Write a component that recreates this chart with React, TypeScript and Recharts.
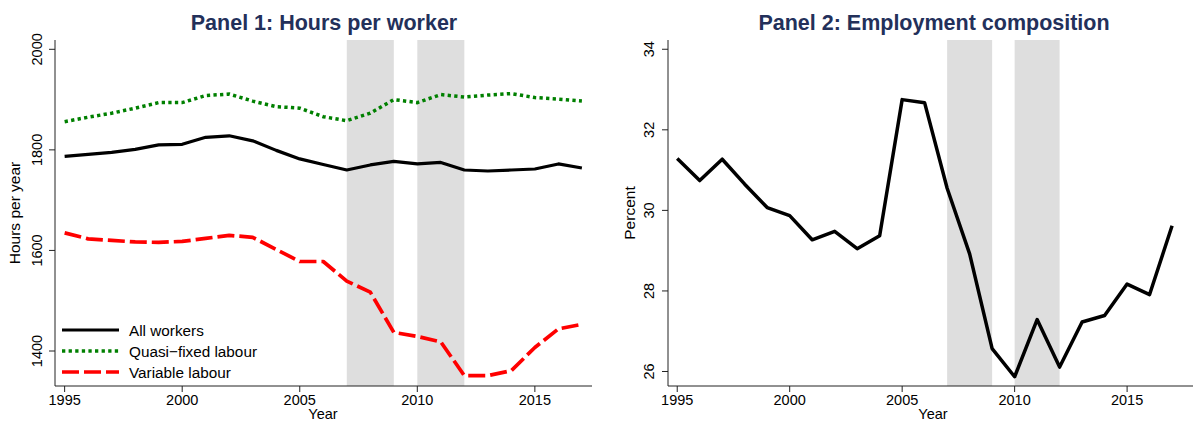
import React from 'react';
import { LineChart, Line, XAxis, YAxis, ReferenceArea, Legend } from 'recharts';

const FONT = '"Liberation Sans", Arial, Helvetica, sans-serif';
const TITLE_COLOR = '#23305a';

const years = [1995, 1996, 1997, 1998, 1999, 2000, 2001, 2002, 2003, 2004, 2005, 2006, 2007, 2008, 2009, 2010, 2011, 2012, 2013, 2014, 2015, 2016, 2017];

// Panel 1: hours per worker
const allWorkers = [1787, 1791, 1795, 1801, 1810, 1811, 1825, 1828, 1818, 1799, 1782, 1771, 1760, 1770, 1777, 1772, 1775, 1760, 1758, 1760, 1762, 1772, 1764];
const quasiFixed = [1856, 1865, 1873, 1883, 1894, 1894, 1908, 1911, 1897, 1886, 1883, 1866, 1858, 1873, 1900, 1894, 1910, 1905, 1909, 1912, 1904, 1901, 1897];
const variableLabour = [1635, 1623, 1620, 1617, 1616, 1618, 1624, 1630, 1626, 1602, 1578, 1578, 1539, 1517, 1437, 1429, 1418, 1351, 1351, 1361, 1407, 1444, 1453];

// Panel 2: employment composition (percent)
const employmentShare = [31.29, 30.74, 31.27, 30.65, 30.07, 29.87, 29.27, 29.48, 29.05, 29.37, 32.75, 32.67, 30.55, 28.92, 26.57, 25.87, 27.29, 26.11, 27.23, 27.39, 28.17, 27.91, 29.62];

const recessions = [
  [2007, 2009],
  [2010, 2012],
];

const yearTicks = [1995, 2000, 2005, 2010, 2015];
const hoursTicks = [1400, 1600, 1800, 2000];
const percentTicks = [26, 28, 30, 32, 34];

const hoursData = years.map((year, i) => ({
  year,
  all: allWorkers[i],
  quasi: quasiFixed[i],
  variable: variableLabour[i],
}));

const shareData = years.map((year, i) => ({ year, share: employmentShare[i] }));

const axisStroke = '#222';

const RotatedTick = (props: any) => {
  const { x, y, payload } = props;
  return (
    <text
      x={x}
      y={y}
      transform={`rotate(-90, ${x}, ${y})`}
      textAnchor="middle"
      fontSize={14.5}
      fontFamily={FONT}
      fill="#000"
    >
      {payload.value}
    </text>
  );
};

const HoursLegend = ({ payload }: any) => (
  <div style={{ fontFamily: FONT, fontSize: 15.3, color: '#000' }}>
    {(payload || []).map((entry: any) => (
      <div key={entry.value} style={{ display: 'flex', alignItems: 'center', height: 21 }}>
        <svg width={57} height={8} style={{ marginRight: 10, display: 'block' }}>
          <line
            x1={0}
            y1={4}
            x2={57}
            y2={4}
            stroke={entry.color}
            strokeWidth={entry.payload?.strokeWidth ?? 3}
            strokeDasharray={entry.payload?.strokeDasharray}
          />
        </svg>
        <span style={{ lineHeight: '21px' }}>{entry.value}</span>
      </div>
    ))}
  </div>
);

// titles and axis names drawn on top of each panel
const Overlay = ({ left, width, title, titleX, yLabel, yLabelX, xLabelX }: any) => (
  <svg
    width={width}
    height={421}
    style={{ position: 'absolute', left, top: 0, pointerEvents: 'none' }}
  >
    <text x={titleX} y={30} textAnchor="middle" fontFamily={FONT} fontWeight="bold" fontSize={21.5} fill={TITLE_COLOR}>
      {title}
    </text>
    <text
      x={yLabelX}
      y={213}
      transform={`rotate(-90, ${yLabelX}, 213)`}
      textAnchor="middle"
      fontFamily={FONT}
      fontSize={15.5}
      fill="#000"
    >
      {yLabel}
    </text>
    <text x={xLabelX} y={419} textAnchor="middle" fontFamily={FONT} fontSize={14.5} fill="#000">
      Year
    </text>
  </svg>
);

export default function App() {
  return (
    <div style={{ position: 'absolute', left: 0, top: 0, width: 1193, height: 421, background: '#fff', overflow: 'hidden' }}>
      <div style={{ position: 'absolute', left: 0, top: 0 }}>
        <LineChart width={600} height={421} data={hoursData} margin={{ top: 40, right: 8, bottom: 0, left: 0 }}>
          {recessions.map(([a, b]) => (
            <ReferenceArea key={a} x1={a} x2={b} fill="#dedede" fillOpacity={1} stroke="none" />
          ))}
          <XAxis
            dataKey="year"
            type="number"
            domain={[1994.59, 2017.43]}
            allowDataOverflow
            ticks={yearTicks}
            height={35}
            tickSize={6}
            tickMargin={3}
            stroke={axisStroke}
            tick={{ fill: '#000', fontSize: 14.5, fontFamily: FONT }}
          />
          <YAxis
            type="number"
            domain={[1330.4, 2018.5]}
            allowDataOverflow
            ticks={hoursTicks}
            width={55}
            tickSize={6}
            tickMargin={7}
            stroke={axisStroke}
            tick={<RotatedTick />}
          />
          <Legend
            layout="vertical"
            align="center"
            verticalAlign="middle"
            content={<HoursLegend />}
            wrapperStyle={{ left: 62, top: 319.5, width: 230, height: 64 }}
          />
          <Line
            dataKey="all"
            name="All workers"
            stroke="#000"
            strokeWidth={3.2}
            dot={false}
            activeDot={false}
            strokeLinejoin="round"
            isAnimationActive={false}
          />
          <Line
            dataKey="quasi"
            name="Quasi−fixed labour"
            stroke="#008000"
            strokeWidth={3.5}
            strokeDasharray="3.3 3.3"
            dot={false}
            activeDot={false}
            isAnimationActive={false}
          />
          <Line
            dataKey="variable"
            name="Variable labour"
            stroke="#ff0000"
            strokeWidth={3.7}
            strokeDasharray="17 5"
            dot={false}
            activeDot={false}
            strokeLinejoin="round"
            isAnimationActive={false}
          />
        </LineChart>
      </div>
      <Overlay left={0} width={600} title="Panel 1: Hours per worker" titleX={324} yLabel="Hours per year" yLabelX={20} xLabelX={323} />

      <div style={{ position: 'absolute', left: 600, top: 0 }}>
        <LineChart width={593} height={421} data={shareData} margin={{ top: 40, right: 0, bottom: 0, left: 0 }}>
          {recessions.map(([a, b]) => (
            <ReferenceArea key={a} x1={a} x2={b} fill="#dedede" fillOpacity={1} stroke="none" />
          ))}
          <XAxis
            dataKey="year"
            type="number"
            domain={[1994.59, 2017.93]}
            allowDataOverflow
            ticks={yearTicks}
            height={35}
            tickSize={6}
            tickMargin={3}
            stroke={axisStroke}
            tick={{ fill: '#000', fontSize: 14.5, fontFamily: FONT }}
          />
          <YAxis
            type="number"
            domain={[25.64, 34.23]}
            allowDataOverflow
            ticks={percentTicks}
            width={68}
            tickSize={6}
            tickMargin={8}
            stroke={axisStroke}
            tick={<RotatedTick />}
          />
          <Line
            dataKey="share"
            name="Percent"
            stroke="#000"
            strokeWidth={3.5}
            dot={false}
            activeDot={false}
            strokeLinejoin="round"
            isAnimationActive={false}
          />
        </LineChart>
      </div>
      <Overlay left={600} width={593} title="Panel 2: Employment composition" titleX={334} yLabel="Percent" yLabelX={34.5} xLabelX={333} />
    </div>
  );
}
